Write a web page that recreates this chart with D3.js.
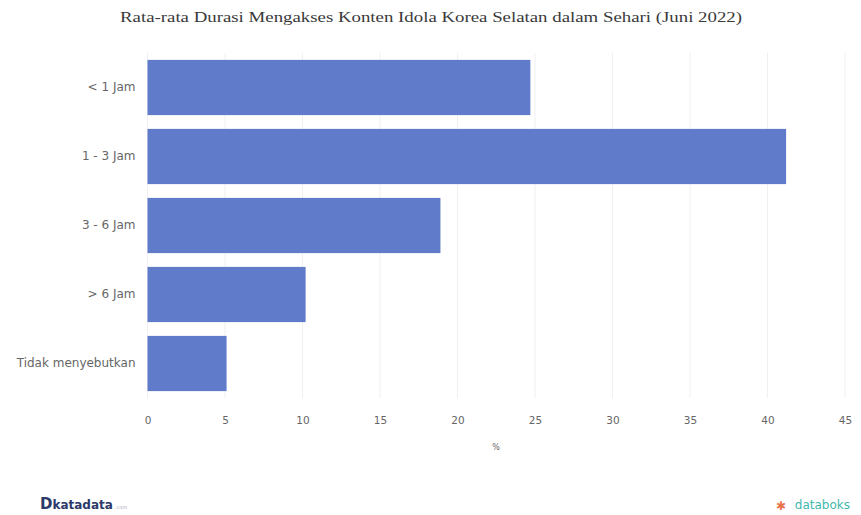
<!DOCTYPE html>
<html>
<head>
<meta charset="utf-8">
<script src="https://cdn.jsdelivr.net/npm/d3@7"></script>
<style>
  body { margin: 0; background: #fff; }
  svg { display: block; }
</style>
</head>
<body>
<svg id="chart"></svg>
<script>
// data
const categories = ["< 1 Jam", "1 - 3 Jam", "3 - 6 Jam", "> 6 Jam", "Tidak menyebutkan"]
const values = [24.7, 41.2, 18.9, 10.2, 5.1]
const xTicks = [0, 5, 10, 15, 20, 25, 30, 35, 40, 45]

const width = 861, height = 515
const margin = {top: 53, right: 16, bottom: 117, left: 147.5}

const svg = d3.select("#chart").attr("width", width).attr("height", height)

// skala
const x = d3.scaleLinear().domain([0, 45]).range([margin.left, width - margin.right])
const y = d3.scaleBand().domain(categories)
  .range([margin.top, height - margin.bottom])
  .paddingInner(0.2).paddingOuter(0.1)

// judul
svg.append("text")
  .attr("x", 120).attr("y", 22)
  .attr("textLength", 622)
  .attr("lengthAdjust", "spacingAndGlyphs")
  .style("font-family", "'Liberation Serif', 'DejaVu Serif', serif")
  .style("font-size", "15px")
  .style("fill", "#3a3a3a")
  .text("Rata-rata Durasi Mengakses Konten Idola Korea Selatan dalam Sehari (Juni 2022)")

// grid
svg.append("g").selectAll("line")
  .data(xTicks)
  .enter().append("line")
  .attr("x1", d => x(d)).attr("x2", d => x(d))
  .attr("y1", margin.top).attr("y2", height - margin.bottom)
  .attr("stroke", "#f0f0f0").attr("stroke-width", 1)

// bar
svg.append("g").selectAll("rect")
  .data(values)
  .enter().append("rect")
  .attr("x", x(0))
  .attr("y", (d, i) => y(categories[i]))
  .attr("width", d => x(d) - x(0))
  .attr("height", y.bandwidth())
  .attr("fill", "#5f7bca")

// sumbu x
const xAxis = svg.append("g")
  .attr("transform", `translate(0,${height - margin.bottom})`)
  .call(d3.axisBottom(x).tickValues(xTicks).tickSize(0).tickPadding(19))
xAxis.select(".domain").remove()
xAxis.selectAll("text")
  .style("font-family", "'DejaVu Sans', sans-serif")
  .style("font-size", "10.5px")
  .style("fill", "#666")

// sumbu y
const yAxis = svg.append("g")
  .attr("transform", `translate(${margin.left},0)`)
  .call(d3.axisLeft(y).tickSize(0).tickPadding(12))
yAxis.select(".domain").remove()
yAxis.selectAll("text")
  .style("font-family", "'DejaVu Sans', sans-serif")
  .style("font-size", "12px")
  .style("fill", "#666")

// label sumbu
svg.append("text")
  .attr("x", 496).attr("y", 450)
  .attr("text-anchor", "middle")
  .style("font-family", "'DejaVu Sans', sans-serif")
  .style("font-size", "8px")
  .style("fill", "#666")
  .text("%")

// logo katadata
const kd = svg.append("text")
  .attr("x", 40).attr("y", 509)
  .style("font-family", "'DejaVu Sans', sans-serif")
  .style("fill", "#2c3a6b")
kd.append("tspan").style("font-size", "15px").style("font-weight", "bold").text("D")
kd.append("tspan").style("font-size", "12px").style("font-weight", "bold").text("katadata")
kd.append("tspan").style("font-size", "5px").style("fill", "#aab").attr("dx", 2).text(".com")

// logo databoks
svg.append("text")
  .attr("x", 850).attr("y", 509)
  .attr("text-anchor", "end")
  .style("font-family", "'DejaVu Sans', sans-serif")
  .style("font-size", "12px")
  .style("fill", "#3fb8ac")
  .text("databoks")
svg.append("text")
  .attr("x", 786).attr("y", 510)
  .attr("text-anchor", "end")
  .style("font-family", "'DejaVu Sans', sans-serif")
  .style("font-size", "12px")
  .style("font-weight", "bold")
  .style("fill", "#e9724c")
  .text("✱")
</script>
</body>
</html>
